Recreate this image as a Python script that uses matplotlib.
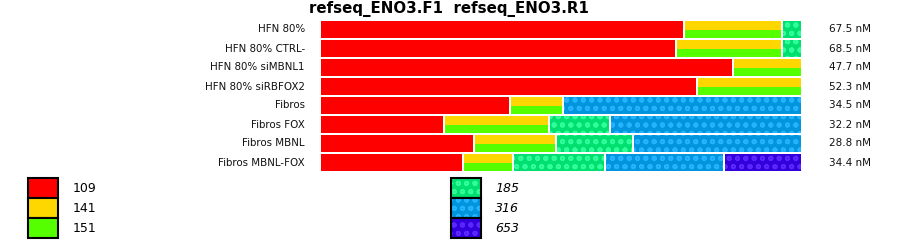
import matplotlib
matplotlib.use("Agg")
import matplotlib.pyplot as plt
from matplotlib.patches import Rectangle
import numpy as np

plt.rcParams['font.family'] = ['DejaVu Sans']
plt.rcParams['hatch.linewidth'] = 1.3

title = "refseq_ENO3.F1  refseq_ENO3.R1"
categories = ["HFN 80%", "HFN 80% CTRL-", "HFN 80% siMBNL1", "HFN 80% siRBFOX2",
              "Fibros", "Fibros FOX", "Fibros MBNL", "Fibros MBNL-FOX"]
concentrations = ["67.5 nM", "68.5 nM", "47.7 nM", "52.3 nM",
                  "34.5 nM", "32.2 nM", "28.8 nM", "34.4 nM"]
# percentage of each peak per sample
v109     = [75.5, 73.9, 85.7, 78.2, 39.4, 25.7, 32.0, 29.7]
v141_151 = [20.3, 22.0, 14.3, 21.8, 11.0, 21.8, 17.0, 10.4]
v185     = [4.2, 4.1, 0.0, 0.0, 0.0, 12.7, 16.0, 19.1]
v316     = [0.0, 0.0, 0.0, 0.0, 49.6, 39.8, 35.0, 24.7]
v653     = [0.0, 0.0, 0.0, 0.0, 0.0, 0.0, 0.0, 16.1]

legend_left = ["109", "141", "151"]
legend_right = ["185", "316", "653"]

W, H = 900, 242
fig = plt.figure(figsize=(W/100, H/100), dpi=100)

def fx(px): return px / W
def fy(py): return 1 - py / H

# main axes: bar area
x0, x1 = 321, 803
y0, y1 = 20, 172
ax = fig.add_axes([fx(x0), fy(y1), fx(x1 - x0), (y1 - y0) / H])
ax.set_xlim(0, 100)
ax.set_ylim(len(categories) - 0.5, -0.5)
ax.axis('off')

gap = 2 / ((x1 - x0) / 100)
bh = 17 / 19
y = np.arange(len(categories))

red = "#FF0000"
yellow = "#FFD700"
green = "#55FF00"
pat = {
    "185": ("#00E070", "#33FF9A"),
    "316": ("#0095DD", "#25B2FF"),
    "653": ("#3300DD", "#5A28FF"),
}

left = np.zeros(len(categories))
a = np.array(v109)
ax.barh(y, np.where(a > 0, a - gap, 0), left=left, height=bh, color=red, linewidth=0)
left += a
a = np.array(v141_151)
w = np.where(a > 0, a - gap, 0)
ax.barh(y - bh / 4, w, left=left, height=bh / 2, color=yellow, linewidth=0)
ax.barh(y + bh / 4, w, left=left, height=bh / 2, color=green, linewidth=0)
left += a
for key, vals in (("185", v185), ("316", v316), ("653", v653)):
    a = np.array(vals)
    w = np.where(a > 0, a - gap, 0)
    fc, hc = pat[key]
    ax.barh(y, w, left=left, height=bh, color=fc, edgecolor=hc, hatch='oo', linewidth=0)
    left += a

for i, (c, n) in enumerate(zip(categories, concentrations)):
    ax.text(-16 / 4.82, i, c, ha='right', va='center', fontsize=7.4, color='#111111')
    ax.text((829 - x0) / 4.82, i, n, ha='left', va='center', fontsize=7.5, color='#111111')

fig.text(fx(448.5), fy(9), title, ha='center', va='center', fontsize=10.8, fontweight='bold')

# legend
lax = fig.add_axes([0, 0, 1, 1])
lax.set_xlim(0, W)
lax.set_ylim(H, 0)
lax.axis('off')
for i, lab in enumerate(legend_left):
    col = [red, yellow, green][i]
    top = 178 + 20 * i
    lax.add_patch(Rectangle((28, top), 30, 20, facecolor=col, edgecolor='black', linewidth=1.5))
    lax.text(73, top + 10.5, lab, ha='left', va='center', fontsize=9)
for i, lab in enumerate(legend_right):
    fc, hc = pat[lab]
    top = 178 + 20 * i
    lax.add_patch(Rectangle((451, top), 30, 20, facecolor=fc, edgecolor=hc, hatch='oo', linewidth=0))
    lax.add_patch(Rectangle((451, top), 30, 20, facecolor='none', edgecolor='black', linewidth=1.5))
    lax.text(495, top + 10.5, lab, ha='left', va='center', fontsize=9, style='italic')

fig.savefig("out.png", dpi=100)
